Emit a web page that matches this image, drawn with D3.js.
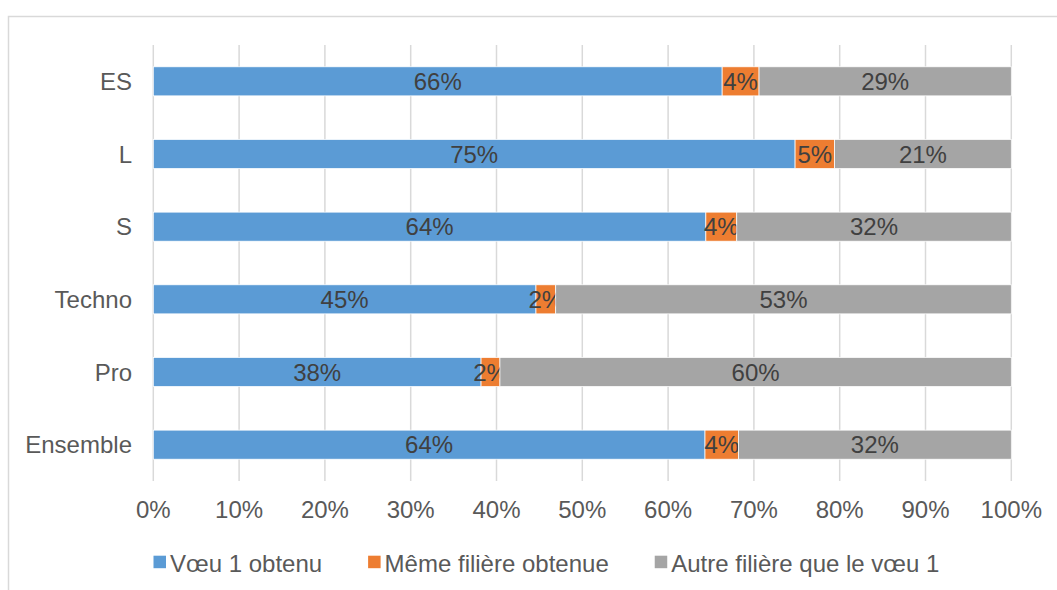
<!DOCTYPE html>
<html>
<head>
<meta charset="utf-8">
<script src="https://cdn.jsdelivr.net/npm/d3@7"></script>
<style>
  body { margin: 0; background: #fff; }
  text { font-family: "Liberation Sans", Arial, sans-serif; }
</style>
</head>
<body>
<div id="chart"></div>
<script>
// categories, top to bottom
const categories = ['ES', 'L', 'S', 'Techno', 'Pro', 'Ensemble'];
// series (% of each row)
const voeu1 = [66.3, 74.8, 64.4, 44.6, 38.2, 64.3];
const memeFiliere = [4.3, 4.6, 3.6, 2.3, 2.2, 3.9];
const autreFiliere = [29.4, 20.6, 32.0, 53.1, 59.6, 31.8];
const seriesNames = ['Vœu 1 obtenu', 'Même filière obtenue', 'Autre filière que le vœu 1'];
const xTicks = [0, 10, 20, 30, 40, 50, 60, 70, 80, 90, 100];

const width = 1057, height = 590;
const colors = ['#5B9BD5', '#ED7D31', '#A5A5A5'];
const keys = ['a', 'b', 'c'];

const rows = categories.map((c, i) => ({ cat: c, a: voeu1[i], b: memeFiliere[i], c: autreFiliere[i] }));

const svg = d3.select('#chart')
    .append('svg')
    .attr('width', width)
    .attr('height', height);

// chart frame (runs off the right and bottom)
svg.append('rect')
    .attr('x', 8.5).attr('y', 16.5)
    .attr('width', 1100).attr('height', 620)
    .attr('fill', 'none')
    .attr('stroke', '#d9d9d9')
    .attr('stroke-width', 1.5);

const x = d3.scaleLinear().domain([0, 100]).range([153.3, 1011.3]);
const y = d3.scaleBand().domain(categories).range([45, 481])
    .paddingInner(0.6).paddingOuter(0.3);

// gridlines
svg.append('g')
    .selectAll('line')
    .data(xTicks)
    .join('line')
    .attr('x1', d => x(d)).attr('x2', d => x(d))
    .attr('y1', 45).attr('y2', 481)
    .attr('stroke', '#d9d9d9')
    .attr('stroke-width', 1.5);

// tick labels
svg.append('g')
    .selectAll('text')
    .data(xTicks)
    .join('text')
    .attr('x', d => x(d))
    .attr('y', 518)
    .attr('text-anchor', 'middle')
    .attr('font-size', 24)
    .attr('fill', '#595959')
    .text(d => d + '%');

// category labels
svg.append('g')
    .selectAll('text')
    .data(categories)
    .join('text')
    .attr('x', 132)
    .attr('y', d => y(d) + y.bandwidth() / 2)
    .attr('dy', '0.36em')
    .attr('text-anchor', 'end')
    .attr('font-size', 24)
    .attr('fill', '#595959')
    .text(d => d);

const stacked = d3.stack().keys(keys)(rows);

const layers = svg.append('g')
    .selectAll('g')
    .data(stacked)
    .join('g')
    .attr('fill', (d, i) => colors[i]);

layers.selectAll('rect')
    .data(d => d)
    .join('rect')
    .attr('x', d => x(d[0]))
    .attr('y', d => y(d.data.cat))
    .attr('width', d => x(d[1]) - x(d[0]))
    .attr('height', y.bandwidth())
    .attr('stroke', '#fff')
    .attr('stroke-width', 0.75);

// data labels
layers.selectAll('text')
    .data(d => d)
    .join('text')
    .attr('x', d => (x(d[0]) + x(d[1])) / 2)
    .attr('y', d => y(d.data.cat) + y.bandwidth() / 2)
    .attr('dy', '0.36em')
    .attr('text-anchor', 'middle')
    .attr('font-size', 24)
    .attr('fill', '#404040')
    .text(d => Math.round(d[1] - d[0]) + '%');

// legend
const legend = svg.append('g');
let lx = 153.5;
seriesNames.forEach((name, i) => {
    legend.append('rect')
        .attr('x', lx).attr('y', 555.7)
        .attr('width', 12.5).attr('height', 12.5)
        .attr('fill', colors[i]);
    const t = legend.append('text')
        .attr('x', lx + 16.5)
        .attr('y', 571.5)
        .attr('font-size', 24)
        .attr('fill', '#595959')
        .text(name);
    lx += 16.5 + t.node().getComputedTextLength() + 46;
});
</script>
</body>
</html>
